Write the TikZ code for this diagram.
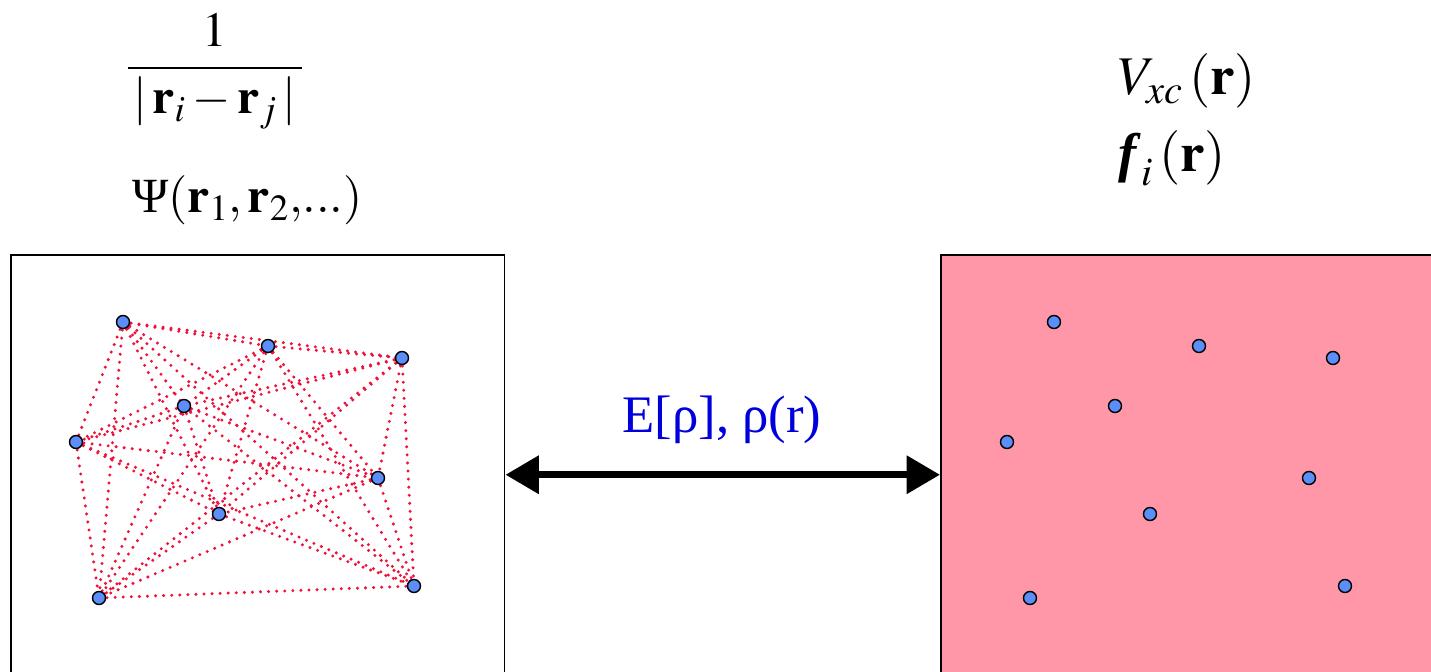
\documentclass[tikz,border=0pt]{standalone}
\usepackage{amsmath}
\usepackage{mathptmx}
\usepackage{fontspec}
\setmainfont{Liberation Serif}
\DeclareMathSizes{28}{28}{21}{16}
\DeclareMathSizes{31}{31}{23}{17}
\usetikzlibrary{arrows.meta,backgrounds}
\definecolor{dotblue}{RGB}{92,142,250}
\definecolor{linkred}{RGB}{238,18,58}
\definecolor{boxpink}{RGB}{255,151,168}
\definecolor{labelblue}{RGB}{0,0,220}

\begin{document}
\begin{tikzpicture}[x=0.02cm, y=-0.02cm,
  particle/.style={draw, circle, fill=dotblue, line width=0.8pt, minimum size=0.26cm, inner sep=0pt},
  pair/.style={linkred, line width=1.9pt, line cap=round, dash pattern=on 0pt off 4.6pt},
  panel/.style={draw, line width=0.9pt, minimum height=8.8cm, inner sep=0pt, anchor=north west},
  eq/.style={font=\fontsize{28}{34}\selectfont, inner sep=0pt},
  eqbig/.style={font=\fontsize{31}{37}\selectfont, inner sep=0pt, anchor=base west}]
  \useasboundingbox (0,0) rectangle (1431,672);
  \clip (0,0) rectangle (1431,672);

  % Panels
  \node[panel, minimum width=9.88cm] (lbox) at (10,254) {};
  \node[panel, minimum width=10.4cm, fill=boxpink] (rbox) at (940,254) {};

  % Particles, same positions in both panels
  \foreach \n/\x/\y in {1/123/322, 2/268/346, 3/402/358, 4/184/406, 5/76/442,
                        6/378/478, 7/219/514, 8/99/598, 9/414/586} {
    \node[particle] (L\n) at (\x,\y) {};
    \node[particle] (R\n) at (\x+931,\y) {};
  }

  % Pair interactions
  \begin{scope}[on background layer]
    \foreach \i in {1,...,9}
      \foreach \j in {1,...,9} {
        \ifnum\i<\j \draw[pair] (L\i.center) -- (L\j.center); \fi
      }
  \end{scope}

  % Arrow
  \draw[{Triangle[length=19pt,width=21pt]}-{Triangle[length=19pt,width=21pt]}, line width=4pt]
    (lbox.east) -- (rbox.west);
  \node[anchor=base, inner sep=0pt, text=labelblue, font=\fontsize{30}{36}\selectfont] (energy) at (722,433) {E[ρ], ρ(r)};

  % Equations
  \node[eq, anchor=base] (coulomb) at (215,80) {$\dfrac{1}{\,|\,\mathbf{r}_i-\mathbf{r}_j\,|\,}$};
  \node[eq, anchor=base west] (psi) at (132,213) {$\text{Ψ}(\mathbf{r}_1,\mathbf{r}_2,\!...)$};
  \node[eqbig] (vxc) at (1118,95) {$V_{xc}\,(\mathbf{r})$};
  \node[eqbig] (orb) at (1118,172) {$\textbf{\textit{f}}_i\,(\mathbf{r})$};
\end{tikzpicture}
\end{document}
